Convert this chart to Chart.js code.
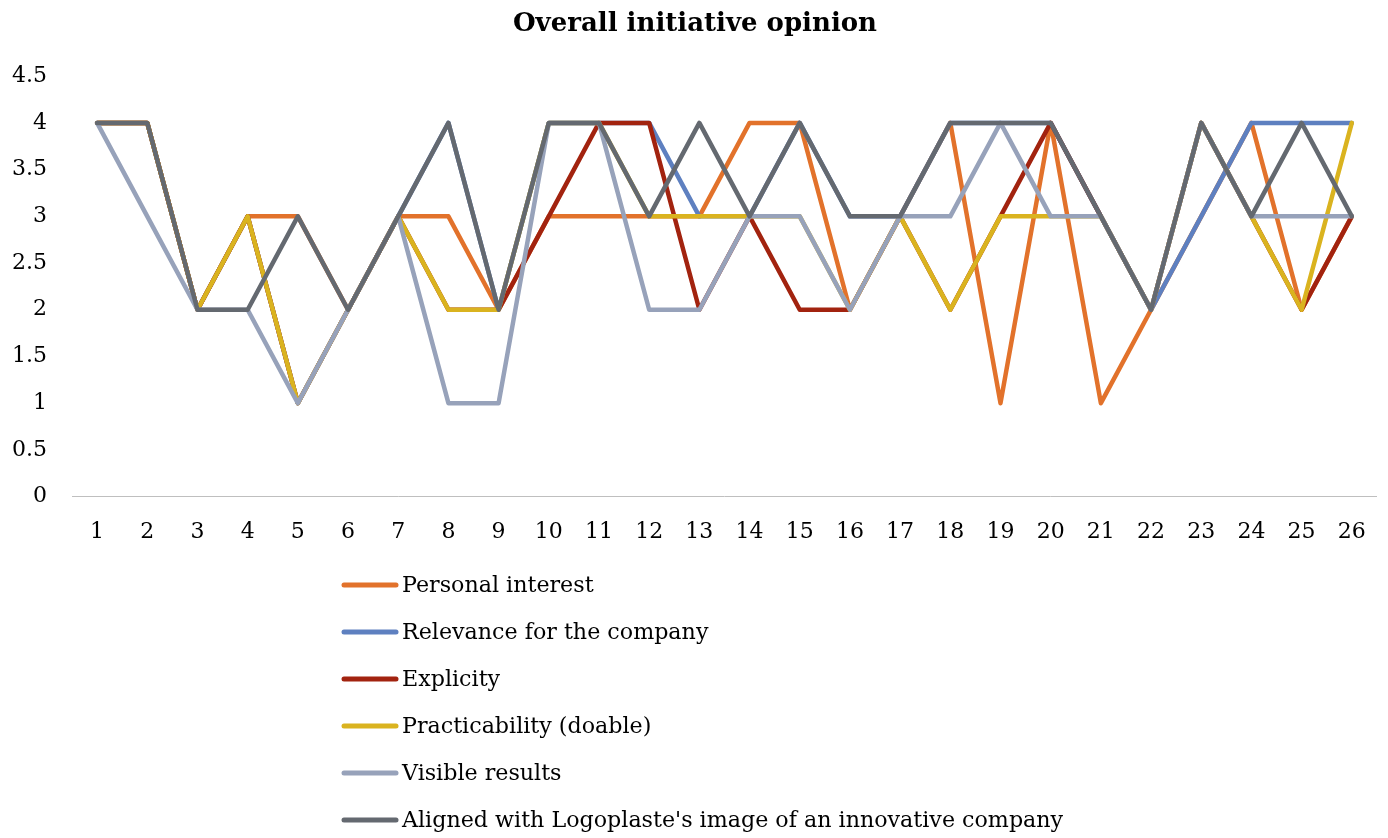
<!DOCTYPE html>
<html>
<head>
<meta charset="utf-8">
<script src="https://cdn.jsdelivr.net/npm/chart.js@4.4.1/dist/chart.umd.min.js"></script>
<style>
html,body{margin:0;padding:0;background:#fff;}
#wrap{width:1388px;height:838px;position:relative;}
</style>
</head>
<body>
<div id="wrap"><canvas id="c" width="1388" height="838"></canvas></div>
<script>
const categories = ['1','2','3','4','5','6','7','8','9','10','11','12','13','14','15','16','17','18','19','20','21','22','23','24','25','26'];
const personalInterest = [4,4,2,3,3,2,3,3,2,3,3,3,3,4,4,2,3,4,1,4,1,2,3,4,2,3];
const relevanceCompany = [4,4,2,3,1,2,3,4,2,4,4,4,3,3,4,3,3,4,4,4,3,2,3,4,4,4];
const explicity        = [4,4,2,3,1,2,3,2,2,3,4,4,2,3,2,2,3,2,3,4,3,2,4,3,2,3];
const practicability   = [4,4,2,3,1,2,3,2,2,4,4,3,3,3,3,2,3,2,3,3,3,2,4,3,2,4];
const visibleResults   = [4,3,2,2,1,2,3,1,1,4,4,2,2,3,3,2,3,3,4,3,3,2,4,3,3,3];
const alignedImage     = [4,4,2,2,3,2,3,4,2,4,4,3,4,3,4,3,3,4,4,4,3,2,4,3,4,3];
const yTickLabels = ['0','0.5','1','1.5','2','2.5','3','3.5','4','4.5'];
const seriesNames = ['Personal interest','Relevance for the company','Explicity','Practicability (doable)','Visible results',"Aligned with Logoplaste's image of an innovative company"];
const seriesColors = ['#E2722B','#5E80C0','#A2230F','#DAB31F','#97A2BA','#646970'];
const titleText = 'Overall initiative opinion';

const serif = "'DejaVu Serif', 'Liberation Serif', serif";
const allData = [personalInterest, relevanceCompany, explicity, practicability, visibleResults, alignedImage];

const legendPlugin = {
  id: 'vlegend',
  afterDraw(chart) {
    const ctx = chart.ctx;
    ctx.save();
    ctx.font = "22.2px " + serif;
    ctx.textBaseline = 'middle';
    chart.data.datasets.forEach((ds, i) => {
      const y = 585 + i * 47;
      ctx.strokeStyle = ds.borderColor;
      ctx.lineWidth = 5;
      ctx.lineCap = 'round';
      ctx.beginPath();
      ctx.moveTo(344, y);
      ctx.lineTo(396, y);
      ctx.stroke();
      ctx.fillStyle = '#000';
      ctx.fillText(ds.label, 402, y + 1);
    });
    ctx.restore();
  }
};

new Chart(document.getElementById('c'), {
  type: 'line',
  data: {
    labels: categories,
    datasets: allData.map((d, i) => ({
      label: seriesNames[i],
      data: d,
      order: allData.length - 1 - i,
      borderColor: seriesColors[i],
      backgroundColor: seriesColors[i],
      borderWidth: 4.5,
      pointRadius: 0,
      pointHoverRadius: 0,
      tension: 0,
      borderJoinStyle: 'round',
      borderCapStyle: 'round',
      fill: false
    }))
  },
  options: {
    responsive: false,
    animation: false,
    layout: { padding: { left: 12, right: 10, top: 4, bottom: 271 } },
    plugins: {
      legend: { display: false },
      tooltip: { enabled: false },
      title: {
        display: true,
        text: titleText,
        color: '#000',
        font: { family: serif, size: 26, weight: 'bold' },
        padding: { top: 5, bottom: 36 }
      }
    },
    scales: {
      x: {
        offset: true,
        grid: { display: false, drawTicks: false },
        border: { display: true, color: '#BFBFBF', width: 1 },
        ticks: { color: '#000', font: { family: serif, size: 22 }, padding: 22, maxRotation: 0, autoSkip: false }
      },
      y: {
        min: 0, max: 4.5,
        grid: { display: false, drawTicks: false },
        border: { display: false },
        afterFit: (scale) => { scale.width = 60; },
        ticks: {
          stepSize: 0.5, color: '#000', font: { family: serif, size: 22 }, padding: 25,
          callback: (v) => yTickLabels[Math.round(v * 2)]
        }
      }
    }
  },
  plugins: [legendPlugin]
});
</script>
</body>
</html>
